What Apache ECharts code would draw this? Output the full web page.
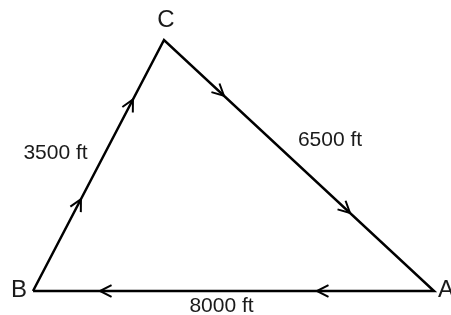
<!DOCTYPE html>
<html>
<head>
<meta charset="utf-8">
<script src="https://cdn.jsdelivr.net/npm/echarts@6/dist/echarts.min.js"></script>
<style>html,body{margin:0;padding:0;background:#fff}#c{width:451px;height:315px}</style>
</head>
<body>
<div id="c"></div>
<script>
// Vertices (drawing units)
const vertexNames = ['B', 'C', 'A'];
const vertexX = [33, 164, 434];
const vertexY = [291, 40, 291];
// Edges (from -> to, direction of travel)
const edgeFrom = [0, 1, 2];
const edgeTo = [1, 2, 0];
const edgeLabels = ['3500 ft', '6500 ft', '8000 ft'];
// Arrow heads: edge index and fractional position along the edge
const arrowEdge = [0, 0, 1, 1, 2, 2];
const arrowPos = [0.366, 0.763, 0.222, 0.689, 0.292, 0.833];

// style / label placement (pixels)
const vertexLabelOffset = [[-14, -1], [2, -20], [12, -1]];
const edgeLabelOffset = [[-43, -12], [31, -25], [-12, 15]];
const FONT = '"Liberation Sans", Arial, Helvetica, sans-serif';
const LINE = '#000';
const TEXT = '#1a1a1a';

const chart = echarts.init(document.getElementById('c'), null, {renderer: 'canvas'});

const polyData = [0, 1, 2, 0].map(i => [vertexX[i], vertexY[i]]);
const arrowData = arrowEdge.map((e, i) => [e, arrowPos[i]]);
const vertexData = vertexNames.map((n, i) => [vertexX[i], vertexY[i], i]);
const edgeData = edgeLabels.map((l, i) => [
  (vertexX[edgeFrom[i]] + vertexX[edgeTo[i]]) / 2,
  (vertexY[edgeFrom[i]] + vertexY[edgeTo[i]]) / 2, i]);

chart.setOption({
  animation: false,
  backgroundColor: '#fff',
  grid: {left: 0, right: 0, top: 0, bottom: 0},
  xAxis: {type: 'value', min: 0, max: 451, show: false},
  yAxis: {type: 'value', min: 0, max: 315, inverse: true, show: false},
  series: [
    {
      type: 'custom',
      clip: false,
      data: [0],
      renderItem: function (params, api) {
        const pts = polyData.map(p => api.coord(p));
        return {
          type: 'polyline',
          shape: {points: pts},
          style: {stroke: LINE, lineWidth: 2.5, fill: null, lineJoin: 'miter'}
        };
      }
    },
    {
      type: 'custom',
      clip: false,
      data: arrowData,
      renderItem: function (params, api) {
        const e = api.value(0), f = api.value(1);
        const a = api.coord([vertexX[edgeFrom[e]], vertexY[edgeFrom[e]]]);
        const b = api.coord([vertexX[edgeTo[e]], vertexY[edgeTo[e]]]);
        const tx = a[0] + f * (b[0] - a[0]);
        const ty = a[1] + f * (b[1] - a[1]);
        const len = Math.hypot(b[0] - a[0], b[1] - a[1]);
        const dx = (b[0] - a[0]) / len, dy = (b[1] - a[1]) / len;
        const L = 13, th = 27 * Math.PI / 180;
        const c = Math.cos(th), s = Math.sin(th);
        const p1 = [tx - L * (dx * c - dy * s), ty - L * (dx * s + dy * c)];
        const p2 = [tx - L * (dx * c + dy * s), ty - L * (-dx * s + dy * c)];
        return {
          type: 'polyline',
          shape: {points: [p1, [tx, ty], p2]},
          style: {stroke: LINE, lineWidth: 2, fill: null}
        };
      }
    },
    {
      type: 'custom',
      clip: false,
      data: vertexData,
      renderItem: function (params, api) {
        const i = api.value(2);
        const p = api.coord([api.value(0), api.value(1)]);
        return {
          type: 'text',
          x: p[0] + vertexLabelOffset[i][0],
          y: p[1] + vertexLabelOffset[i][1],
          style: {text: vertexNames[i], font: '24px ' + FONT, fill: TEXT,
                  align: 'center', verticalAlign: 'middle'}
        };
      }
    },
    {
      type: 'custom',
      clip: false,
      data: edgeData,
      renderItem: function (params, api) {
        const i = api.value(2);
        const p = api.coord([api.value(0), api.value(1)]);
        return {
          type: 'text',
          x: p[0] + edgeLabelOffset[i][0],
          y: p[1] + edgeLabelOffset[i][1],
          style: {text: edgeLabels[i], font: '21px ' + FONT, fill: TEXT,
                  align: 'center', verticalAlign: 'middle'}
        };
      }
    }
  ]
});
</script>
</body>
</html>
